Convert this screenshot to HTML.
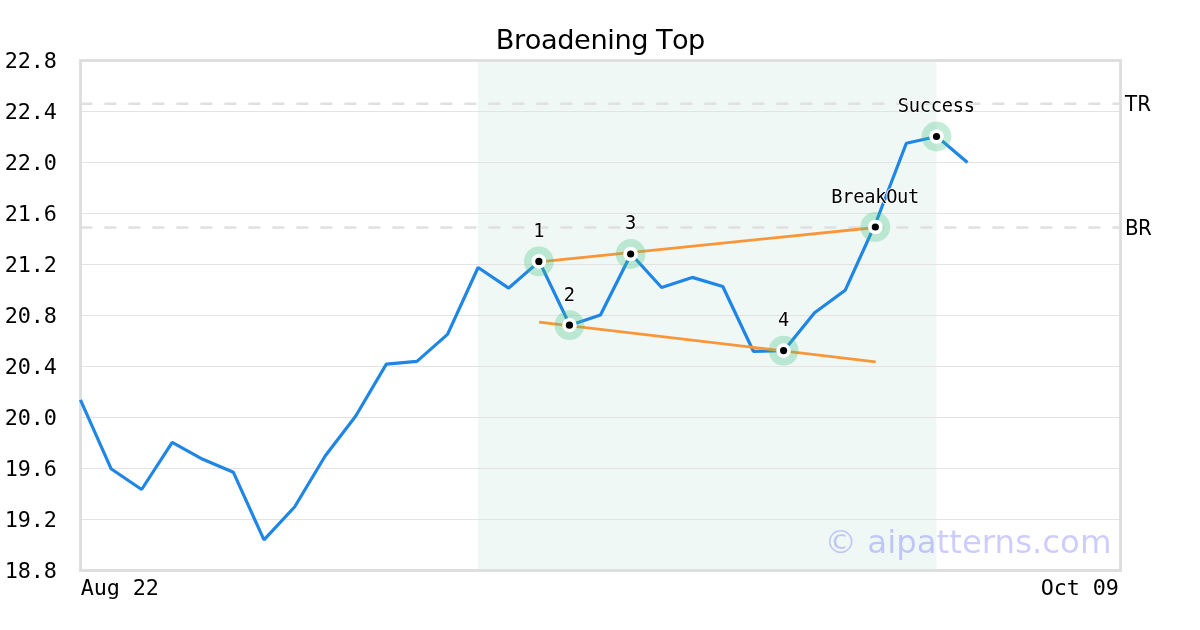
<!DOCTYPE html>
<html><head><meta charset="utf-8"><title>Broadening Top</title>
<style>
html,body{margin:0;padding:0;background:#fff;}
body{width:1200px;height:630px;overflow:hidden;}
svg{display:block;will-change:transform;}
.mono{font-family:"DejaVu Sans Mono","Liberation Mono",monospace;}
.sans{font-family:"DejaVu Sans","Liberation Sans",sans-serif;}
</style></head><body>
<svg width="1200" height="630" viewBox="0 0 1200 630">
<rect x="0" y="0" width="1200" height="630" fill="#fff"/>
<rect x="477.9" y="60" width="458.6" height="510" fill="#eff8f5"/>
<g stroke="#e3e3e3" stroke-width="1"><line x1="80" x2="1120" y1="519.50" y2="519.50"/><line x1="80" x2="1120" y1="468.50" y2="468.50"/><line x1="80" x2="1120" y1="417.50" y2="417.50"/><line x1="80" x2="1120" y1="366.50" y2="366.50"/><line x1="80" x2="1120" y1="315.50" y2="315.50"/><line x1="80" x2="1120" y1="264.50" y2="264.50"/><line x1="80" x2="1120" y1="213.50" y2="213.50"/><line x1="80" x2="1120" y1="162.50" y2="162.50"/><line x1="80" x2="1120" y1="111.50" y2="111.50"/></g>
<g stroke="#e0e0e0" stroke-width="2.5" stroke-dasharray="12 12">
<line x1="80.4" x2="1120" y1="103.8" y2="103.8"/>
<line x1="80.4" x2="1120" y1="227.5" y2="227.5"/>
</g>
<rect x="80.5" y="60.5" width="1040" height="510" fill="none" stroke="#dddddd" stroke-width="2.8"/>
<polyline points="80.45,399.80 111.04,468.70 141.63,489.50 172.21,442.40 202.80,459.30 233.39,472.30 263.98,539.90 294.57,507.00 325.16,456.00 355.74,416.00 386.33,364.10 416.92,361.40 447.51,334.40 478.10,267.50 508.69,288.10 539.27,261.40 569.86,325.20 600.45,315.00 631.04,254.00 661.63,287.50 692.21,277.40 722.80,286.50 753.39,351.30 783.98,350.60 814.57,312.80 845.16,290.30 875.74,223.00 906.33,143.20 936.92,136.50 967.51,162.50" fill="none" stroke="#1f86e6" stroke-width="3.2" stroke-linejoin="bevel" stroke-linecap="butt"/>
<g stroke="#fa9638" stroke-width="2.8" stroke-linecap="butt">
<line x1="539.27" y1="261.90" x2="875.74" y2="227.50"/>
<line x1="539.1" y1="322.2" x2="875.7" y2="361.8"/>
</g>
<g class="mono" font-size="18.7" fill="#000" text-anchor="middle" stroke="#fff" stroke-width="1.6" paint-order="stroke" stroke-linejoin="round" letter-spacing="-0.257"><text x="538.67" y="236.70">1</text><text x="569.26" y="300.70">2</text><text x="630.44" y="229.30">3</text><text x="783.38" y="325.90">4</text><text x="875.14" y="203.30">BreakOut</text><text x="936.32" y="112.40">Success</text></g>
<circle cx="538.87" cy="261.40" r="14.9" fill="#40c080" fill-opacity="0.3"/><circle cx="569.46" cy="325.20" r="14.9" fill="#40c080" fill-opacity="0.3"/><circle cx="630.64" cy="254.00" r="14.9" fill="#40c080" fill-opacity="0.3"/><circle cx="783.58" cy="350.60" r="14.9" fill="#40c080" fill-opacity="0.3"/><circle cx="875.34" cy="227.00" r="14.9" fill="#40c080" fill-opacity="0.3"/><circle cx="936.52" cy="136.50" r="14.9" fill="#40c080" fill-opacity="0.3"/><circle cx="538.87" cy="261.40" r="7.3" fill="#fff"/><circle cx="538.87" cy="261.40" r="3.6" fill="#000"/><circle cx="569.46" cy="325.20" r="7.3" fill="#fff"/><circle cx="569.46" cy="325.20" r="3.6" fill="#000"/><circle cx="630.64" cy="254.00" r="7.3" fill="#fff"/><circle cx="630.64" cy="254.00" r="3.6" fill="#000"/><circle cx="783.58" cy="350.60" r="7.3" fill="#fff"/><circle cx="783.58" cy="350.60" r="3.6" fill="#000"/><circle cx="875.34" cy="227.00" r="7.3" fill="#fff"/><circle cx="875.34" cy="227.00" r="3.6" fill="#000"/><circle cx="936.52" cy="136.50" r="7.3" fill="#fff"/><circle cx="936.52" cy="136.50" r="3.6" fill="#000"/>
<g class="mono" font-size="21.8" fill="#000" text-anchor="end" letter-spacing="-0.12"><text x="56.8" y="577.90">18.8</text><text x="56.8" y="526.90">19.2</text><text x="56.8" y="475.90">19.6</text><text x="56.8" y="424.90">20.0</text><text x="56.8" y="373.90">20.4</text><text x="56.8" y="322.90">20.8</text><text x="56.8" y="271.90">21.2</text><text x="56.8" y="220.90">21.6</text><text x="56.8" y="169.90">22.0</text><text x="56.8" y="118.90">22.4</text><text x="56.8" y="67.90">22.8</text></g>
<g class="mono" font-size="21.8" fill="#000" letter-spacing="-0.12">
<text x="80.7" y="594.8">Aug 22</text>
<text x="1118.9" y="594.8" text-anchor="end">Oct 09</text>
</g>
<g class="sans" font-size="20.8" fill="#000" transform="translate(1125.2 0) scale(0.955 1) translate(-1125.2 0)">
<text x="1125" y="110.6" letter-spacing="0.2">TR</text>
<text x="1125" y="234.6" letter-spacing="-0.7">BR</text>
</g>
<text class="sans" y="48.9" font-size="27.2" fill="#000" style="font-kerning:none"><tspan x="495.7" letter-spacing="-0.4">Broadening</tspan> <tspan x="655.9" letter-spacing="-0.6">Top</tspan></text>
<text class="sans" x="1111.5" y="553" font-size="32.4" text-anchor="end" fill="#0000ff" fill-opacity="0.2">© aipatterns.com</text>
</svg>
</body></html>
